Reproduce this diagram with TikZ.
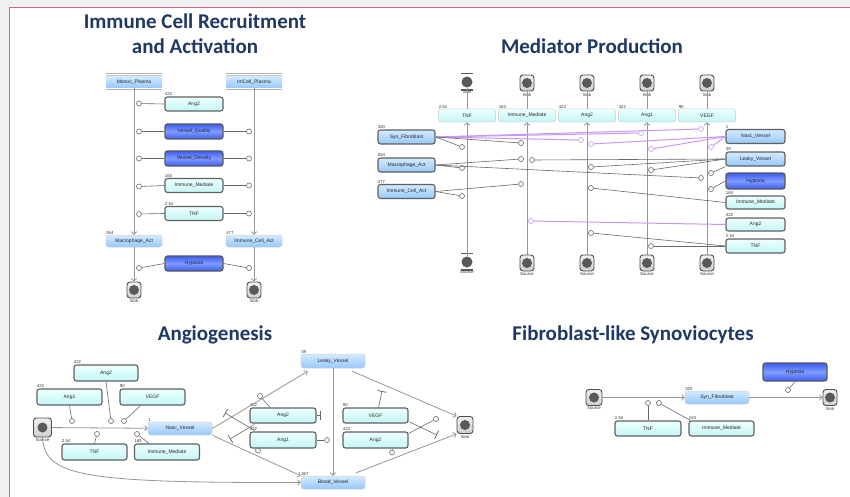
\documentclass[tikz,border=0pt]{standalone}
\usepackage{fontspec}
\setmainfont{Liberation Sans}
\newfontfamily\titlefont{Carlito}
\usetikzlibrary{arrows.meta,calc}
\definecolor{titleblue}{RGB}{31,56,100}
\definecolor{framepink}{RGB}{226,92,140}
\definecolor{pagegray}{RGB}{241,241,241}
\definecolor{cyanA}{RGB}{238,255,255}
\definecolor{cyanB}{RGB}{196,246,246}
\definecolor{lblueA}{RGB}{212,234,255}
\definecolor{lblueB}{RGB}{150,200,252}
\definecolor{dblueA}{RGB}{60,92,245}
\definecolor{dblueB}{RGB}{128,156,255}
\definecolor{modpurple}{RGB}{200,150,245}
\definecolor{linegray}{RGB}{150,150,150}
\definecolor{modgray}{RGB}{105,105,105}
\begin{document}
\begin{tikzpicture}[x=1pt,y=-1pt,
  title/.style={font=\titlefont\bfseries\fontsize{21}{24}\selectfont, text=titleblue, inner sep=0pt, anchor=base},
  num/.style={font=\fontsize{4.3}{5}\selectfont, inner sep=0.3pt, text=black!80},
  lab/.style={label={[num,anchor=south west]north west:#1}},
  sz/.style 2 args={minimum width=#1, minimum height=#2},
  species/.style={rounded corners=2.5pt, inner sep=0pt, font=\fontsize{5}{6}\selectfont, text=black!85},
  cyanbox/.style={species, draw=gray!75!black, line width=1.1pt, top color=cyanA, bottom color=cyanB},
  darkbox/.style={species, draw=gray!70!black, line width=1.2pt, top color=dblueA, bottom color=dblueA, middle color=dblueB},
  bluebox/.style={species, draw=gray!35, line width=0.5pt, top color=lblueA, bottom color=lblueB},
  bluethick/.style={species, draw=gray!75!black, line width=1.1pt, top color=lblueA, bottom color=lblueB},
  plasma/.style={species, rounded corners=0pt, top color=lblueA, bottom color=lblueB},
  sinksym/.style={rounded corners=3pt, draw=gray!60!black, line width=0.9pt, top color=gray!12, bottom color=gray!38,
    minimum width=14, minimum height=16, inner sep=0pt,
    path picture={\fill[gray!70!black] (path picture bounding box.center) circle (5pt);}},
  barsym/.style={circle, fill=gray!70!black, minimum size=11, inner sep=0pt},
  mod/.style={circle, draw=modgray, fill=yellow!6, line width=0.6pt, minimum size=5, inner sep=0pt},
  modp/.style={mod, draw=modpurple, fill=white},
  mline/.style={draw=modgray, line width=0.6pt},
  pline/.style={draw=modpurple, line width=1pt},
  plain/.style={draw=linegray, line width=0.8pt},
  flow/.style={plain, -{Straight Barb[length=2.6pt,width=5.5pt]}},
  inh/.style={mline, -{Bar[width=9pt,line width=0.8pt]}}
]
\useasboundingbox (0,0) rectangle (850,497);
% page and frame
\fill[pagegray] (0,0) rectangle (850,497);
\fill[white] (9,8) rectangle (850,497);
\draw[framepink, line width=1pt] (9,497) -- (9,8) -- (850,8);

% ---------------- titles
\node[title] (t1a) at (195,29) {Immune Cell Recruitment};
\node[title] (t1b) at (195,54) {and Activation};
\node[title] (t2) at (592,54) {Mediator Production};
\node[title] (t3) at (215,340) {Angiogenesis};
\node[title] (t4) at (633,340) {Fibroblast-like Synoviocytes};

% ---------------- immune cell recruitment and activation
\node[plasma, sz={56}{12}] (mp) at (134,82) {Monoc\_Plasma};
\node[plasma, sz={56}{12}] (ip) at (254,82) {ImCell\_Plasma};
\foreach \n in {mp,ip}{
  \draw[gray!60, line width=1pt] ([yshift=2pt]\n.north west) -- ([yshift=2pt]\n.north east);
  \draw[gray!45, line width=0.6pt] ([yshift=0.5pt]\n.north west) -- ([yshift=0.5pt]\n.north east);
  \draw[gray!60, line width=1pt] ([yshift=-1.5pt]\n.south west) -- ([yshift=-1.5pt]\n.south east);
}
\node[cyanbox, sz={58}{14}, lab=422] (ang2a) at (194,104) {Ang2};
\node[darkbox, sz={58}{15}] (vq) at (194,131.5) {Vessel\_Quality};
\node[darkbox, sz={58}{15}] (vd) at (194,158.5) {Vessel\_Density};
\node[cyanbox, sz={58}{14}, lab=163] (ima) at (194,185.5) {Immune\_Mediate};
\node[cyanbox, sz={58}{14}, lab=2.54] (tnfa) at (194,213.5) {TNF};
\node[bluebox, sz={56}{12}, lab=554] (maca) at (134,241) {Macrophage\_Act};
\node[bluebox, sz={56}{12}, lab=477] (icaa) at (254,241) {Immune\_Cell\_Act};
\node[darkbox, sz={58}{15}] (hypa) at (194,263.5) {Hypoxia};
\node[sinksym, label={[num,label distance=0.5pt]below:Sink}] (ska) at (134,290) {};
\node[sinksym, label={[num,label distance=0.5pt]below:Sink}] (skb) at (254,290) {};

\draw[flow] (mp) -- (maca);
\draw[flow] (ip) -- (icaa);
\draw[flow] (maca) -- (ska);
\draw[flow] (icaa) -- (skb);

\node[mod] (l1) at (139,103.5) {};
\node[mod] (l2) at (139,131.5) {};
\node[mod] (l3) at (139,158.5) {};
\node[mod] (l4) at (139,186.5) {};
\node[mod] (l5) at (139,214) {};
\node[mod] (l6) at (139,268) {};
\node[mod] (r2) at (249,131.5) {};
\node[mod] (r3) at (249,158.5) {};
\node[mod] (r4) at (249,185.5) {};
\node[mod] (r5) at (249,213.5) {};
\node[mod] (r6) at (249,268) {};
\draw[mline] (ang2a.west) -- (l1);
\draw[mline] (vq.west) -- (l2);
\draw[mline] (vd.west) -- (l3);
\draw[mline] (ima.west) -- (l4);
\draw[mline] (tnfa.west) -- (l5);
\draw[mline] (hypa.west) -- (l6);
\draw[mline] (vq.east) -- (r2);
\draw[mline] (vd.east) -- (r3);
\draw[mline] (ima.east) -- (r4);
\draw[mline] (tnfa.east) -- (r5);
\draw[mline] (hypa.east) -- (r6);

% ---------------- mediator production
\node[cyanbox, line width=0.5pt, draw=gray!40, sz={57}{13}, lab=2.54] (m1) at (467,115.5) {TNF};
\node[cyanbox, line width=0.5pt, draw=gray!40, sz={57}{13}, lab=163] (m2) at (527,115.5) {Immune\_Mediate};
\node[cyanbox, line width=0.5pt, draw=gray!40, sz={57}{13}, lab=422] (m3) at (587,115.5) {Ang2};
\node[cyanbox, line width=0.5pt, draw=gray!40, sz={57}{13}, lab=422] (m4) at (647,115.5) {Ang1};
\node[cyanbox, line width=0.5pt, draw=gray!40, sz={57}{13}, lab=90] (m5) at (707,115.5) {VEGF};

\node[barsym, label={[num,label distance=2.5pt]below:Sink}] (mk1) at (467,82) {};
\draw[gray!70!black, line width=0.9pt] ([xshift=-6pt,yshift=2.5pt]mk1.north) -- ([xshift=6pt,yshift=2.5pt]mk1.north);
\draw[gray!70!black, line width=0.7pt] ([xshift=-6pt,yshift=-1.5pt]mk1.south) -- ([xshift=6pt,yshift=-1.5pt]mk1.south);
\draw[gray!70!black, line width=0.7pt] ([xshift=-6pt,yshift=-3pt]mk1.south) -- ([xshift=6pt,yshift=-3pt]mk1.south);
\foreach \i/\x in {2/527,3/587,4/647,5/707}{
  \node[sinksym, label={[num,label distance=1pt]below:Sink}] (mk\i) at (\x,83) {};
}
\node[barsym, label={[num,label distance=2.5pt]below:Source}] (ms1) at (467,262) {};
\draw[gray!70!black, line width=0.9pt] ([xshift=-6pt,yshift=2.5pt]ms1.north) -- ([xshift=6pt,yshift=2.5pt]ms1.north);
\draw[gray!70!black, line width=0.7pt] ([xshift=-6pt,yshift=-1.5pt]ms1.south) -- ([xshift=6pt,yshift=-1.5pt]ms1.south);
\draw[gray!70!black, line width=0.7pt] ([xshift=-6pt,yshift=-3pt]ms1.south) -- ([xshift=6pt,yshift=-3pt]ms1.south);
\foreach \i/\x in {2/527,3/587,4/647,5/707}{
  \node[sinksym, label={[num,label distance=1pt]below:Source}] (ms\i) at (\x,263) {};
}
\foreach \i in {1,...,5}{
  \draw[plain] (mk\i) -- (m\i.north);
  \draw[flow] (ms\i) -- (m\i.south);
}

\node[bluethick, sz={57}{14}, lab=320] (sfb) at (406.5,137) {Syn\_Fibroblast};
\node[bluethick, sz={57}{14}, lab=554] (macb) at (406.5,165) {Macrophage\_Act};
\node[bluethick, sz={57}{14}, lab=477] (icab) at (406.5,191.5) {Immune\_Cell\_Act};
\node[bluethick, sz={59}{14}, lab=1] (nvb) at (755.5,136.5) {Nasc\_Vessel};
\node[bluethick, sz={59}{14}, lab=39] (lvb) at (755.5,159) {Leaky\_Vessel};
\node[darkbox, sz={59}{16}] (hyb) at (755.5,181) {Hypoxia};
\node[cyanbox, sz={59}{13}, lab=163] (imb) at (755.5,202.5) {Immune\_Mediate};
\node[cyanbox, sz={59}{13}, lab=422] (a2b) at (755.5,224.5) {Ang2};
\node[cyanbox, sz={59}{14}, lab=2.54] (tnfb) at (755.5,246) {TNF};

% purple regulators
\node[modp] (p1) at (581,140) {};
\node[modp] (p2) at (641,133) {};
\node[modp] (p3) at (701,129) {};
\node[modp] (p4) at (591,144) {};
\node[modp] (p5) at (651,149) {};
\node[modp] (p6) at (711,147) {};
\node[modp] (p7) at (531,221) {};
\draw[pline] (sfb.east) -- (p1);
\draw[pline] (sfb.east) -- (p2);
\draw[pline] (sfb.east) -- (p3);
\draw[pline] (nvb.west) -- (p4);
\draw[pline] (nvb.west) -- (p5);
\draw[pline] (nvb.west) -- (p6);
\draw[pline] (a2b.west) -- (p7);

% gray regulators
\node[mod] (g1) at (462,147) {};
\node[mod] (g2) at (521,143) {};
\node[mod] (g3) at (521,159) {};
\node[mod] (g4) at (462,168) {};
\node[mod] (g5) at (701,178) {};
\node[mod] (g6) at (521,184) {};
\node[mod] (g7) at (462,196) {};
\node[mod] (g8) at (532,160) {};
\node[mod] (g9) at (591,167) {};
\node[mod] (g10) at (651,170) {};
\node[mod] (g11) at (711,173) {};
\node[mod] (g12) at (711,189) {};
\node[mod] (g13) at (591,188) {};
\node[mod] (g14) at (591,233) {};
\node[mod] (g15) at (651,246) {};
\draw[mline] (sfb.east) -- (g1);
\draw[mline] (sfb.east) -- (g2);
\draw[mline] (macb.east) -- (g3);
\draw[mline] (macb.east) -- (g4);
\draw[mline] (macb.east) -- (g5);
\draw[mline] (icab.east) -- (g6);
\draw[mline] (icab.east) -- (g7);
\draw[mline] (lvb.west) -- (g8);
\draw[mline] (lvb.west) -- (g9);
\draw[mline] (lvb.west) -- (g10);
\draw[mline] (lvb.south west) -- (g11);
\draw[mline] (hyb.west) -- (g12);
\draw[mline] (imb.west) -- (g13);
\draw[mline] (tnfb.west) -- (g14);
\draw[mline] (tnfb.west) -- (g15);

% ---------------- angiogenesis
\node[sinksym, sz={18}{19}, label={[num,label distance=0.5pt]below:Source}] (src3) at (42.5,427.5) {};
\node[cyanbox, sz={64}{16}, lab=422] (c3a2) at (106,373) {Ang2};
\node[cyanbox, sz={65}{16}, lab=422] (c3a1) at (69.5,397) {Ang1};
\node[cyanbox, sz={65}{16}, lab=90] (c3vg) at (152.5,397) {VEGF};
\node[bluebox, sz={64}{13}, lab=1] (nv3) at (180,428.5) {Nasc\_Vessel};
\node[cyanbox, sz={65}{16}, lab=2.54] (c3tnf) at (94.5,452) {TNF};
\node[cyanbox, sz={65}{16}, lab=163] (c3im) at (167,452) {Immune\_Mediate};
\node[bluebox, sz={64}{14}, lab=39] (lv3) at (333,361) {Leaky\_Vessel};
\node[bluebox, sz={64}{13}, lab=367] (bv3) at (333,482.5) {Blood\_Vessel};
\node[cyanbox, sz={66}{15}, lab=422] (d3a2) at (283,415.5) {Ang2};
\node[cyanbox, sz={66}{16}, lab=422] (d3a1) at (283,440) {Ang1};
\node[cyanbox, sz={65}{15}, lab=90] (d3vg) at (375.5,415.5) {VEGF};
\node[cyanbox, sz={65}{16}, lab=422] (d3a2r) at (375.5,440) {Ang2};
\node[sinksym, sz={16}{17}, label={[num,label distance=0.5pt]below:Sink}] (sk3) at (465,425) {};

\draw[flow] (src3) -- (nv3);
\draw[flow] (src3.south) .. controls (45,476) and (80,483) .. (bv3.west);
\draw[flow] (nv3.east) -- ([xshift=7pt,yshift=-3pt]lv3.south west);
\draw[flow] (nv3.south east) -- (bv3.north west);
\draw[flow] (lv3) -- (bv3);
\draw[flow] ([xshift=-13pt,yshift=-3pt]lv3.south east) -- (sk3.north west);
\draw[flow] ([xshift=-9pt,yshift=3pt]bv3.north east) -- (sk3.south west);

\node[mod] (e1) at (72,421) {};
\node[mod] (e2) at (111,421) {};
\node[mod] (e3) at (124,421) {};
\node[mod] (e4) at (97,434) {};
\node[mod] (e5) at (137,434) {};
\draw[mline] (c3a1.south) -- (e1);
\draw[mline] (c3a2.south) -- (e2);
\draw[mline] ([xshift=-12pt]c3vg.south) -- (e3);
\draw[mline] (c3tnf.north) -- (e4);
\draw[mline] ([xshift=15pt]c3im.north west) -- (e5);

\node[mod] (f1) at (260,396) {};
\node[mod] (f2) at (327,440) {};
\node[mod] (f3) at (258,450.5) {};
\node[mod] (f4) at (436,419) {};
\node[mod] (f5) at (392,452.5) {};
\coordinate (h1) at (321,415.5);
\coordinate (h2) at (225,413);
\coordinate (h3) at (230,439);
\coordinate (h4) at (382,391);
\coordinate (h5) at (437,435);
\draw[mline] ([xshift=-13pt]d3a2.north) -- (f1);
\draw[mline] (d3a1.east) -- (f2);
\draw[mline] ([xshift=-25pt]d3a1.south) -- (f3);
\draw[mline] ([yshift=-2pt]d3a2r.north east) -- (f4);
\draw[mline] ([xshift=17pt]d3a2r.south) -- (f5);
\draw[inh] (d3a2.east) -- (h1);
\draw[inh] ([xshift=5pt,yshift=1pt]d3a1.north west) -- (h2);
\draw[inh] ([xshift=5pt,yshift=-1pt]d3a2.south west) -- (h3);
\draw[inh] ([xshift=3pt]d3vg.north) -- (h4);
\draw[inh] ([yshift=2pt]d3vg.south east) -- (h5);

% ---------------- fibroblast-like synoviocytes
\node[sinksym, sz={16}{16}, label={[num,label distance=0.5pt]below:Source}] (src4) at (594,397.5) {};
\node[bluebox, sz={64}{13}, lab=320] (sf4) at (717,397.5) {Syn\_Fibroblast};
\node[sinksym, sz={14}{16}, label={[num,label distance=0.5pt]below:Sink}] (sk4) at (830,397.5) {};
\node[darkbox, sz={64}{18}] (hy4) at (795,372) {Hypoxia};
\node[cyanbox, sz={66}{15}, lab=2.54] (tnf4) at (648,428.5) {TNF};
\node[cyanbox, sz={65}{15}, lab=163] (im4) at (721.5,428.5) {Immune\_Mediate};
\draw[flow] (src4) -- (sf4);
\draw[flow] (sf4) -- (sk4);
\node[mod] (k1) at (648,403) {};
\node[mod] (k2) at (659,403) {};
\node[mod] (k3) at (788,390) {};
\draw[mline] (tnf4.north) -- (k1);
\draw[mline] ([xshift=2pt]im4.north west) -- (k2);
\draw[mline] (hy4.south) -- (k3);
\end{tikzpicture}
\end{document}
